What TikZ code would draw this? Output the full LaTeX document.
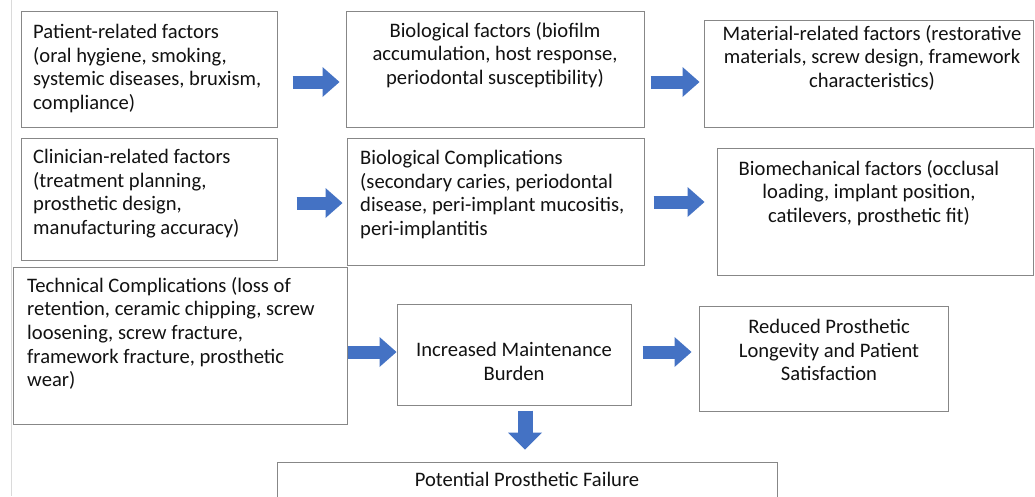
\documentclass[tikz,border=0pt]{standalone}
\usepackage{fontspec}
\setmainfont{Carlito}
\usetikzlibrary{arrows.meta}
\definecolor{arrowblue}{RGB}{68,114,196}
\definecolor{boxline}{RGB}{135,135,135}
\definecolor{txtcol}{RGB}{18,18,18}
\definecolor{edgeline}{RGB}{218,218,218}
\tikzset{
  box/.style={draw=boxline, line width=1pt, fill=white, inner sep=0pt, rectangle},
  txt/.style={inner sep=0pt, text=txtcol, font=\fontsize{20.6}{23.6}\selectfont},
  txtl/.style={txt, align=left, anchor=north west},
  txtc/.style={txt, align=center, anchor=north},
  harrow/.style={draw=arrowblue, line width=13pt,
    -{Triangle[length=17pt,width=30pt,line width=0pt]}},
  varrow/.style={draw=arrowblue, line width=15pt,
    -{Triangle[length=17pt,width=34pt,line width=0pt]}}
}
\begin{document}
\begin{tikzpicture}[x=1pt,y=-1pt]
\useasboundingbox (0,0) rectangle (1035,496);
\clip (0,0) rectangle (1035,496);
\fill[white] (0,0) rectangle (1035,496);
\coordinate (e1) at (11,0);
\coordinate (e2) at (11,496);
\draw[edgeline, line width=1pt] (e1) -- (e2);

% boxes
\node[box, minimum width=256pt, minimum height=116pt] (b1) at (149,69) {};
\node[box, minimum width=298pt, minimum height=116pt] (b2) at (495,69) {};
\node[box, minimum width=329pt, minimum height=107pt] (b3) at (868.5,73.5) {};
\node[box, minimum width=256pt, minimum height=122pt] (b4) at (149,199) {};
\node[box, minimum width=297pt, minimum height=127pt] (b5) at (495.5,201.5) {};
\node[box, minimum width=316pt, minimum height=127pt] (b6) at (875,211.5) {};
\node[box, minimum width=334pt, minimum height=157pt] (b7) at (180,345.5) {};
\node[box, minimum width=234pt, minimum height=101pt] (b8) at (514,354.5) {};
\node[box, minimum width=249pt, minimum height=105pt] (b9) at (823.5,358.5) {};
\node[box, minimum width=500pt, minimum height=43pt] (b10) at (527,483.5) {};

% texts
\node[txtl] (t1) at (33,24) {Patient-related factors\\(oral hygiene, smoking,\\systemic diseases, bruxism,\\compliance)};
\node[txtc] (t2) at (495,22) {Biological factors (biofilm\\accumulation, host response,\\periodontal susceptibility)};
\node[txtc] (t3) at (872,25) {Material-related factors (restorative\\materials, screw design, framework\\characteristics)};
\node[txtl] (t4) at (33,149) {Clinician-related factors\\(treatment planning,\\prosthetic design,\\manufacturing accuracy)};
\node[txtl] (t5) at (360,150) {Biological Complications\\(secondary caries, periodontal\\disease, peri-implant mucositis,\\peri-implantitis};
\node[txtc] (t6) at (869,160) {Biomechanical factors (occlusal\\loading, implant position,\\catilevers, prosthetic fit)};
\node[txtl] (t7) at (27,277) {Technical Complications (loss of\\retention, ceramic chipping, screw\\loosening, screw fracture,\\framework fracture, prosthetic\\wear)};
\node[txtc] (t8) at (514,342) {Increased Maintenance\\Burden};
\node[txtc] (t9) at (829,319) {Reduced Prosthetic\\Longevity and Patient\\Satisfaction};
\node[txtc] (t10) at (527,472) {Potential Prosthetic Failure};

% arrows
\draw[harrow] ([shift={(15,13)}]b1.east) -- ([shift={(-6,13)}]b2.west);
\draw[harrow] ([shift={(6,13)}]b2.east) -- ([shift={(-4,8.5)}]b3.west);
\draw[harrow] ([shift={(19,4)}]b4.east) -- ([shift={(-4,1.5)}]b5.west);
\draw[harrow] ([shift={(9,0.5)}]b5.east) -- ([shift={(-12,-9.5)}]b6.west);
\draw[harrow] ([shift={(0,6.5)}]b7.east) -- ([shift={(0,-2.5)}]b8.west);
\draw[harrow] ([shift={(11,-2.5)}]b8.east) -- ([shift={(-7,-6.5)}]b9.west);
\draw[varrow] ([shift={(11,5)}]b8.south) -- ([shift={(-2,-12)}]b10.north);
\end{tikzpicture}
\end{document}
